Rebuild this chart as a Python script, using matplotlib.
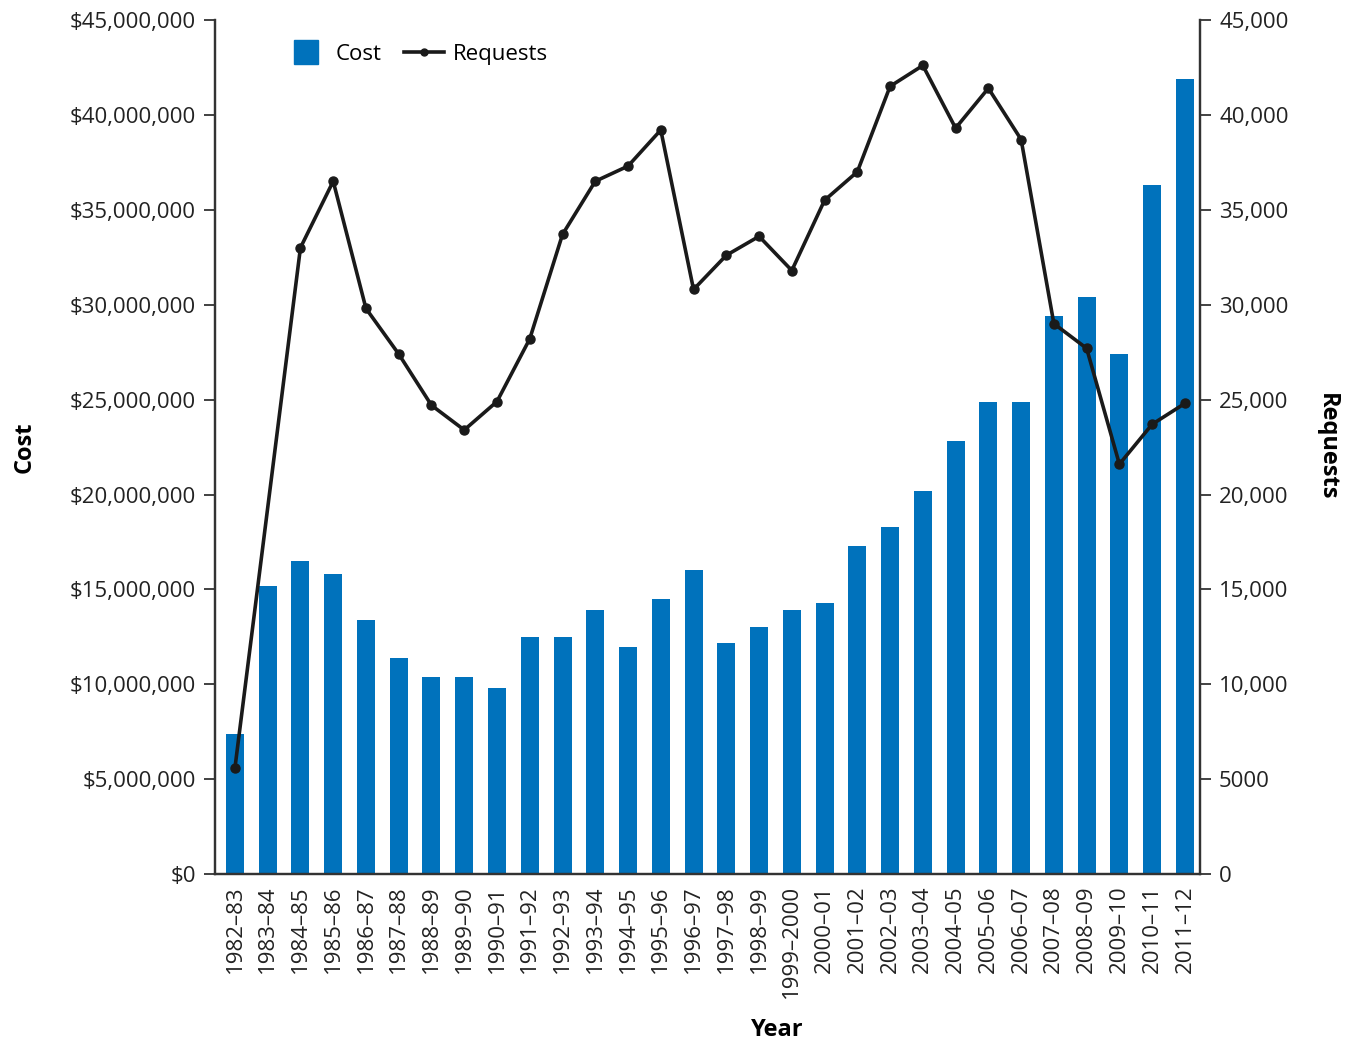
import numpy as np
import matplotlib.pyplot as plt
from matplotlib.lines import Line2D
from matplotlib.ticker import FuncFormatter

plt.rcParams['font.family'] = ['Open Sans', 'DejaVu Sans']

years = ['1982–83', '1983–84', '1984–85', '1985–86', '1986–87', '1987–88', '1988–89', '1989–90',
         '1990–91', '1991–92', '1992–93', '1993–94', '1994–95', '1995–96', '1996–97', '1997–98',
         '1998–99', '1999–2000', '2000–01', '2001–02', '2002–03', '2003–04', '2004–05', '2005–06',
         '2006–07', '2007–08', '2008–09', '2009–10', '2010–11', '2011–12']

cost = [7.4, 15.2, 16.5, 15.8, 13.4, 11.4, 10.4, 10.4, 9.8, 12.5, 12.5, 13.9, 11.96, 14.5, 16.0,
        12.2, 13.0, 13.9, 14.3, 17.3, 18.3, 20.2, 22.8, 24.9, 24.9, 29.4, 30.4, 27.4, 36.3, 41.9]
cost = [c * 1e6 for c in cost]

# no value reported for 1983-84
requests = [5600, None, 33000, 36500, 29800, 27400, 24700, 23400, 24900, 28200, 33700, 36500,
            37300, 39200, 30800, 32600, 33600, 31800, 35500, 37000, 41500, 42600, 39300, 41400,
            38700, 29000, 27700, 21600, 23700, 24800]

bar_color = '#0072bc'

fig = plt.figure(figsize=(13.54, 10.47), dpi=100)
ax = fig.add_axes([0.159, 0.165, 0.727, 0.816])
ax2 = ax.twinx()

x = np.arange(len(years))
ax.bar(x, cost, width=0.55, color=bar_color, zorder=2)

rx = [i for i, r in enumerate(requests) if r is not None]
ry = [r for r in requests if r is not None]
ax2.plot(rx, ry, color='#1a1a1a', lw=2.6, marker='o', ms=6.5, zorder=3)

ax.set_xlim(-0.6, len(years) - 0.55)
ax.set_ylim(0, 45e6)
ax2.set_ylim(0, 45000)
ax.set_yticks(np.arange(0, 45e6 + 1, 5e6))
ax2.set_yticks(np.arange(0, 45001, 5000))
ax.yaxis.set_major_formatter(FuncFormatter(lambda v, p: f'${v:,.0f}'))
ax2.yaxis.set_major_formatter(FuncFormatter(lambda v, p: f'{v:,.0f}' if v >= 10000 else f'{v:.0f}'))

ax.set_xticks(x)
ax.set_xticklabels(years, rotation=90, fontsize=16, color='#222222')
ax.tick_params(axis='x', length=0, pad=8)
ax.tick_params(axis='y', labelsize=16, length=8, width=1.3, pad=6, colors='#333333', labelcolor='#222222')
ax2.tick_params(axis='y', labelsize=16, length=8, width=1.3, pad=6, colors='#333333', labelcolor='#222222')

for a in (ax, ax2):
    a.spines['top'].set_visible(False)
    for s in ('left', 'right', 'bottom'):
        a.spines[s].set_linewidth(1.6)
        a.spines[s].set_color('#333333')

ax.set_xlabel('Year', fontsize=17, fontweight='bold')
ax.xaxis.set_label_coords(0.571, -0.168)
ax.set_ylabel('Cost', fontsize=17, fontweight='bold', labelpad=24)
ax2.set_ylabel('Requests', fontsize=17, fontweight='bold', rotation=-90, labelpad=36)

cost_handle = Line2D([], [], marker='s', ms=17, ls='none', color=bar_color)
line_handle = Line2D([], [], color='#1a1a1a', lw=2.6, marker='o', ms=5)
ax.legend([cost_handle, line_handle], ['Cost', 'Requests'], loc='upper left', bbox_to_anchor=(0.052, 0.995),
          ncol=2, frameon=False, fontsize=16, handlelength=1.8, handletextpad=0.4, columnspacing=1.0)

fig.savefig('out.png', dpi=100)
